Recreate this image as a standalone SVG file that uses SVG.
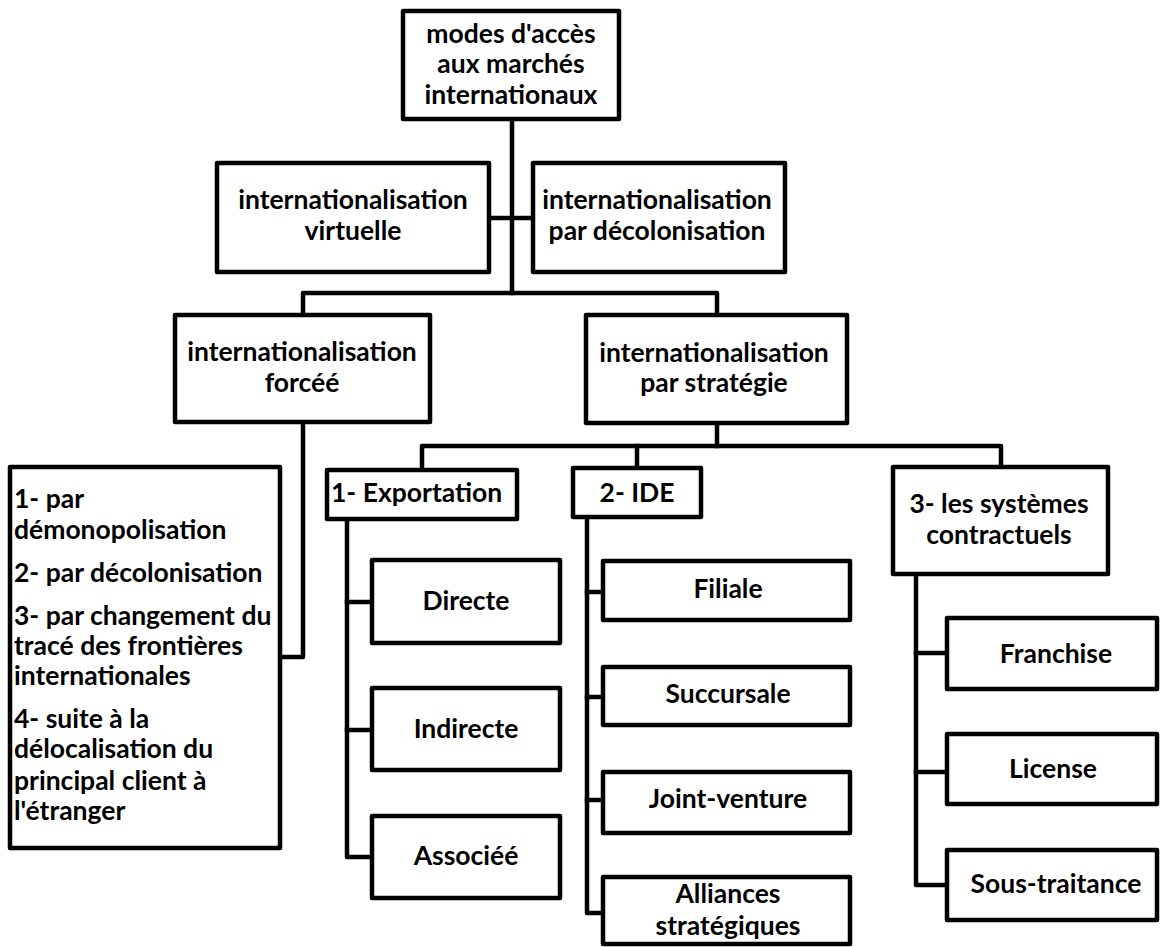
<svg xmlns="http://www.w3.org/2000/svg" width="1160" height="947" viewBox="0 0 1160 947">
<style>
  .box { fill: #ffffff; stroke: #000000; stroke-width: 4.5; stroke-linejoin: round; }
  .conn { fill: none; stroke: #000000; stroke-width: 4.5; stroke-linejoin: round; stroke-linecap: square; }
  text { font-family: Lato, "Open Sans", "Liberation Sans", sans-serif; font-weight: bold; font-size: 26.5px; fill: #000000; }
  .c { text-anchor: middle; }
</style>
<rect width="1160" height="947" fill="#ffffff"/>
<g id="connectors">
  <path class="conn" d="M512 119 V293"/>
  <path class="conn" d="M489 218 H533"/>
  <path class="conn" d="M303 315 V293 H717 V315"/>
  <path class="conn" d="M303 422 V657 H280"/>
  <path class="conn" d="M717 423 V446"/>
  <path class="conn" d="M422 470 V446 H1001 V467"/>
  <path class="conn" d="M637 446 V468"/>
  <path class="conn" d="M347 519 V857 H372"/>
  <path class="conn" d="M347 602 H372"/>
  <path class="conn" d="M347 730 H372"/>
  <path class="conn" d="M587 517 V913 H603"/>
  <path class="conn" d="M587 592 H603"/>
  <path class="conn" d="M587 697 H603"/>
  <path class="conn" d="M587 800 H603"/>
  <path class="conn" d="M916 574 V885 H947"/>
  <path class="conn" d="M916 653 H947"/>
  <path class="conn" d="M916 772 H947"/>
</g>
<g id="root">
  <rect class="box" x="403" y="11" width="216" height="108"/>
  <text class="c" x="511" y="43">modes d'accès</text>
  <text class="c" x="511" y="73">aux marchés</text>
  <text class="c" x="511" y="104">internationaux</text>
</g>
<g id="virtuelle">
  <rect class="box" x="217" y="163" width="272" height="109"/>
  <text class="c" x="353" y="209">internationalisation</text>
  <text class="c" x="353" y="240">virtuelle</text>
</g>
<g id="decolonisation">
  <rect class="box" x="533" y="163" width="252" height="109"/>
  <text class="c" x="657" y="209">internationalisation</text>
  <text class="c" x="657" y="240">par décolonisation</text>
</g>
<g id="forcee">
  <rect class="box" x="175" y="315" width="255" height="107"/>
  <text class="c" x="302" y="361">internationalisation</text>
  <text class="c" x="302" y="392">forcéé</text>
</g>
<g id="strategie">
  <rect class="box" x="586" y="315" width="261" height="108"/>
  <text class="c" x="714" y="362">internationalisation</text>
  <text class="c" x="714" y="392">par stratégie</text>
</g>
<g id="liste-forcee">
  <rect class="box" x="10" y="467" width="270" height="381"/>
  <text x="14" y="508">1- par</text>
  <text x="14" y="539">démonopolisation</text>
  <text x="14" y="582">2- par décolonisation</text>
  <text x="14" y="625">3- par changement du</text>
  <text x="14" y="655">tracé des frontières</text>
  <text x="14" y="685">internationales</text>
  <text x="14" y="728">4- suite à la</text>
  <text x="14" y="758">délocalisation du</text>
  <text x="14" y="790">principal client à</text>
  <text x="14" y="820">l'étranger</text>
</g>
<g id="exportation">
  <rect class="box" x="327" y="470" width="190" height="49"/>
  <text x="331" y="502">1- Exportation</text>
</g>
<g id="ide">
  <rect class="box" x="573" y="468" width="128" height="49"/>
  <text class="c" x="637" y="502">2- IDE</text>
</g>
<g id="systemes">
  <rect class="box" x="893" y="467" width="215" height="107"/>
  <text class="c" x="999" y="513">3- les systèmes</text>
  <text class="c" x="999" y="544">contractuels</text>
</g>
<g id="directe">
  <rect class="box" x="372" y="560" width="188" height="83"/>
  <text class="c" x="466" y="610">Directe</text>
</g>
<g id="indirecte">
  <rect class="box" x="372" y="688" width="188" height="82"/>
  <text class="c" x="466" y="738">Indirecte</text>
</g>
<g id="associee">
  <rect class="box" x="372" y="816" width="188" height="82"/>
  <text class="c" x="466" y="865">Associéé</text>
</g>
<g id="filiale">
  <rect class="box" x="603" y="561" width="247" height="59"/>
  <text class="c" x="728" y="598">Filiale</text>
</g>
<g id="succursale">
  <rect class="box" x="603" y="667" width="247" height="58"/>
  <text class="c" x="728" y="703">Succursale</text>
</g>
<g id="joint-venture">
  <rect class="box" x="603" y="772" width="247" height="61"/>
  <text class="c" x="728" y="808">Joint-venture</text>
</g>
<g id="alliances">
  <rect class="box" x="603" y="877" width="247" height="67"/>
  <text class="c" x="728" y="903">Alliances</text>
  <text class="c" x="728" y="935">stratégiques</text>
</g>
<g id="franchise">
  <rect class="box" x="947" y="618" width="210" height="71"/>
  <text class="c" x="1056" y="663">Franchise</text>
</g>
<g id="license">
  <rect class="box" x="947" y="734" width="210" height="70"/>
  <text class="c" x="1053" y="778">License</text>
</g>
<g id="sous-traitance">
  <rect class="box" x="947" y="850" width="210" height="70"/>
  <text class="c" x="1056" y="893">Sous-traitance</text>
</g>
</svg>
